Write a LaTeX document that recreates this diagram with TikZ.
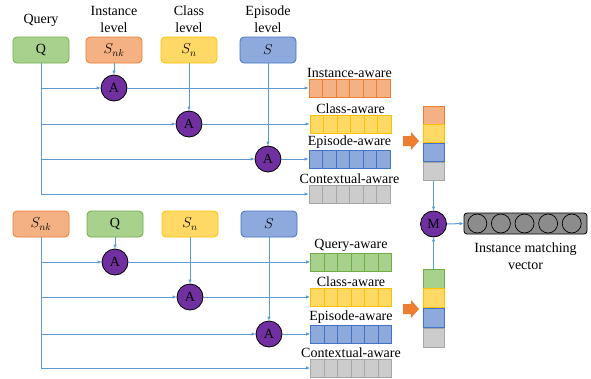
\documentclass[tikz,border=0pt]{standalone}
\usepackage{fontspec}
\setmainfont{Liberation Serif}
\usepackage{tikz}
\usetikzlibrary{shapes,arrows,positioning,calc,arrows.meta}

\definecolor{orangeF}{HTML}{F4B183}
\definecolor{orangeB}{HTML}{ED7D31}
\definecolor{yellowF}{HTML}{FFD966}
\definecolor{yellowB}{HTML}{FFC000}
\definecolor{blueF}{HTML}{8EA9DB}
\definecolor{blueB}{HTML}{4472C4}
\definecolor{greenF}{HTML}{A9D18E}
\definecolor{greenB}{HTML}{70AD47}
\definecolor{grayF}{HTML}{CCCCCC}
\definecolor{grayB}{HTML}{A6A6A6}
\definecolor{purpleF}{HTML}{7030A0}
\definecolor{lineblue}{HTML}{5B9BD5}
\definecolor{vecgray}{HTML}{8C8C8C}

\begin{document}
\begin{tikzpicture}[x=1pt, y=-1pt, font=\fontsize{14}{17}\selectfont,
    box/.style={draw=#1B, fill=#1F, rounded corners=4pt, minimum width=56pt,
        minimum height=26pt, inner sep=0pt, line width=0.8pt},
    att/.style={circle, draw=black, fill=purpleF, minimum size=26pt,
        inner sep=0pt, line width=0.8pt},
    cells/.style={draw=#1B, fill=#1F, minimum width=81pt, minimum height=18pt,
        inner sep=0pt, line width=0.8pt,
        path picture={\foreach \k in {1,...,5}
            \draw[#1B, line width=0.8pt]
            ($(path picture bounding box.south west)!\k/6!(path picture bounding box.south east)$) --
            ($(path picture bounding box.north west)!\k/6!(path picture bounding box.north east)$);}},
    rowlab/.style={inner sep=1pt},
    stack/.style={draw=#1B, fill=#1F, minimum width=21pt, minimum height=18pt,
        inner sep=0pt, line width=0.8pt},
    link/.style={lineblue, line width=1pt},
    arr/.style={link, -{Latex[length=4pt,width=3.5pt]}},
    pics/bigarr/.style={code={
        \fill[orangeB] (-8,-5) -- (0,-5) -- (0,-9) -- (8,0) -- (0,9) -- (0,5) -- (-8,5) -- cycle;}},
    dot/.style={circle, draw=black, fill=vecgray, minimum size=19pt,
        inner sep=0pt, line width=0.7pt}
]
    \useasboundingbox (0,0) rectangle (591,378);

    % Top block: inputs
    \node[box=green] (q1) at (41,50) {Q};
    \node[box=orange] (snk1) at (114,50) {$S_{nk}$};
    \node[box=yellow] (sn1) at (189,50) {$S_{n}$};
    \node[box=blue] (s1) at (268,50) {$S$};

    \node at (41,20) {Query};
    \node[align=center] at (114,19) {Instance\\level};
    \node[align=center] at (189,19) {Class\\level};
    \node[align=center] at (268,19) {Episode\\level};

    % Top block: attention units
    \node[att] (a11) at (114,88) {A};
    \node[att] (a12) at (189,124) {A};
    \node[att] (a13) at (268,159) {A};

    % Top block: aware features
    \node[cells=orange, label={[rowlab]above:Instance-aware}] (inst1) at (349.5,88) {};
    \node[cells=yellow, label={[rowlab]above:Class-aware}] (cls1) at (350.5,124) {};
    \node[cells=blue, label={[rowlab]above:Episode-aware}] (epi1) at (349.5,159) {};
    \node[cells=gray, label={[rowlab]above:Contextual-aware}] (ctx1) at (349.5,194) {};

    % Top block: connectors
    \draw[link] (q1.south) -- (q1.south |- ctx1);
    \draw[arr] (q1.south |- a11) -- (a11.west);
    \draw[arr] (q1.south |- a12) -- (a12.west);
    \draw[arr] (q1.south |- a13) -- (a13.west);
    \draw[arr] (q1.south |- ctx1) -- (ctx1.west);
    \draw[arr] (snk1.south) -- (a11.north);
    \draw[arr] (sn1.south) -- (a12.north);
    \draw[arr] (s1.south) -- (a13.north);
    \draw[arr] (a11.east) -- (inst1.west);
    \draw[arr] (a12.east) -- (cls1.west);
    \draw[arr] (a13.east) -- (epi1.west);

    % Bottom block: inputs
    \node[box=orange] (snk2) at (41,224) {$S_{nk}$};
    \node[box=green] (q2) at (115,224) {Q};
    \node[box=yellow] (sn2) at (190,224) {$S_{n}$};
    \node[box=blue] (s2) at (269,224) {$S$};

    % Bottom block: attention units
    \node[att] (a21) at (115,262) {A};
    \node[att] (a22) at (190,297) {A};
    \node[att] (a23) at (269,334) {A};

    % Bottom block: aware features
    \node[cells=green, label={[rowlab]above:Query-aware}] (qry2) at (351,262) {};
    \node[cells=yellow, label={[rowlab]above:Class-aware}] (cls2) at (351,297) {};
    \node[cells=blue, label={[rowlab]above:Episode-aware}] (epi2) at (351,334) {};
    \node[cells=gray, label={[rowlab]above:Contextual-aware}] (ctx2) at (351,368) {};

    % Bottom block: connectors
    \draw[link] (snk2.south) -- (snk2.south |- ctx2);
    \draw[arr] (snk2.south |- a21) -- (a21.west);
    \draw[arr] (snk2.south |- a22) -- (a22.west);
    \draw[arr] (snk2.south |- a23) -- (a23.west);
    \draw[arr] (snk2.south |- ctx2) -- (ctx2.west);
    \draw[arr] (q2.south) -- (a21.north);
    \draw[arr] (sn2.south) -- (a22.north);
    \draw[arr] (s2.south) -- (a23.north);
    \draw[arr] (a21.east) -- (qry2.west);
    \draw[arr] (a22.east) -- (cls2.west);
    \draw[arr] (a23.east) -- (epi2.west);

    % Concatenation
    \pic at (411,141) {bigarr};
    \pic at (411,309) {bigarr};

    \node[stack=orange] (c1a) at (433.5,115) {};
    \node[stack=yellow, below=0pt of c1a] (c1b) {};
    \node[stack=blue, below=0pt of c1b] (c1c) {};
    \node[stack=gray, below=0pt of c1c] (c1d) {};

    \node[stack=green, minimum height=19pt] (c2a) at (433.5,278.5) {};
    \node[stack=yellow, minimum height=19pt, below=0pt of c2a] (c2b) {};
    \node[stack=blue, minimum height=19pt, below=0pt of c2b] (c2c) {};
    \node[stack=gray, minimum height=19pt, below=0pt of c2c] (c2d) {};

    % Matching
    \node[att] (m) at (433.5,224) {M};
    \node[draw=black, fill=vecgray, rounded corners=3pt, minimum width=123pt,
        minimum height=21pt, line width=0.8pt] (vec) at (525.5,223.5) {};
    \foreach \i in {0,...,4}
        \node[dot] (v\i) at ($(vec.west)+(13.7+23.6*\i,0)$) {};
    \node[below=5pt of vec, align=center] (veclab) {Instance matching\\vector};

    \draw[arr] (c1d.south) -- (m.north);
    \draw[arr] (c2a.north) -- (m.south);
    \draw[arr] (m.east) -- (vec.west);
\end{tikzpicture}
\end{document}
